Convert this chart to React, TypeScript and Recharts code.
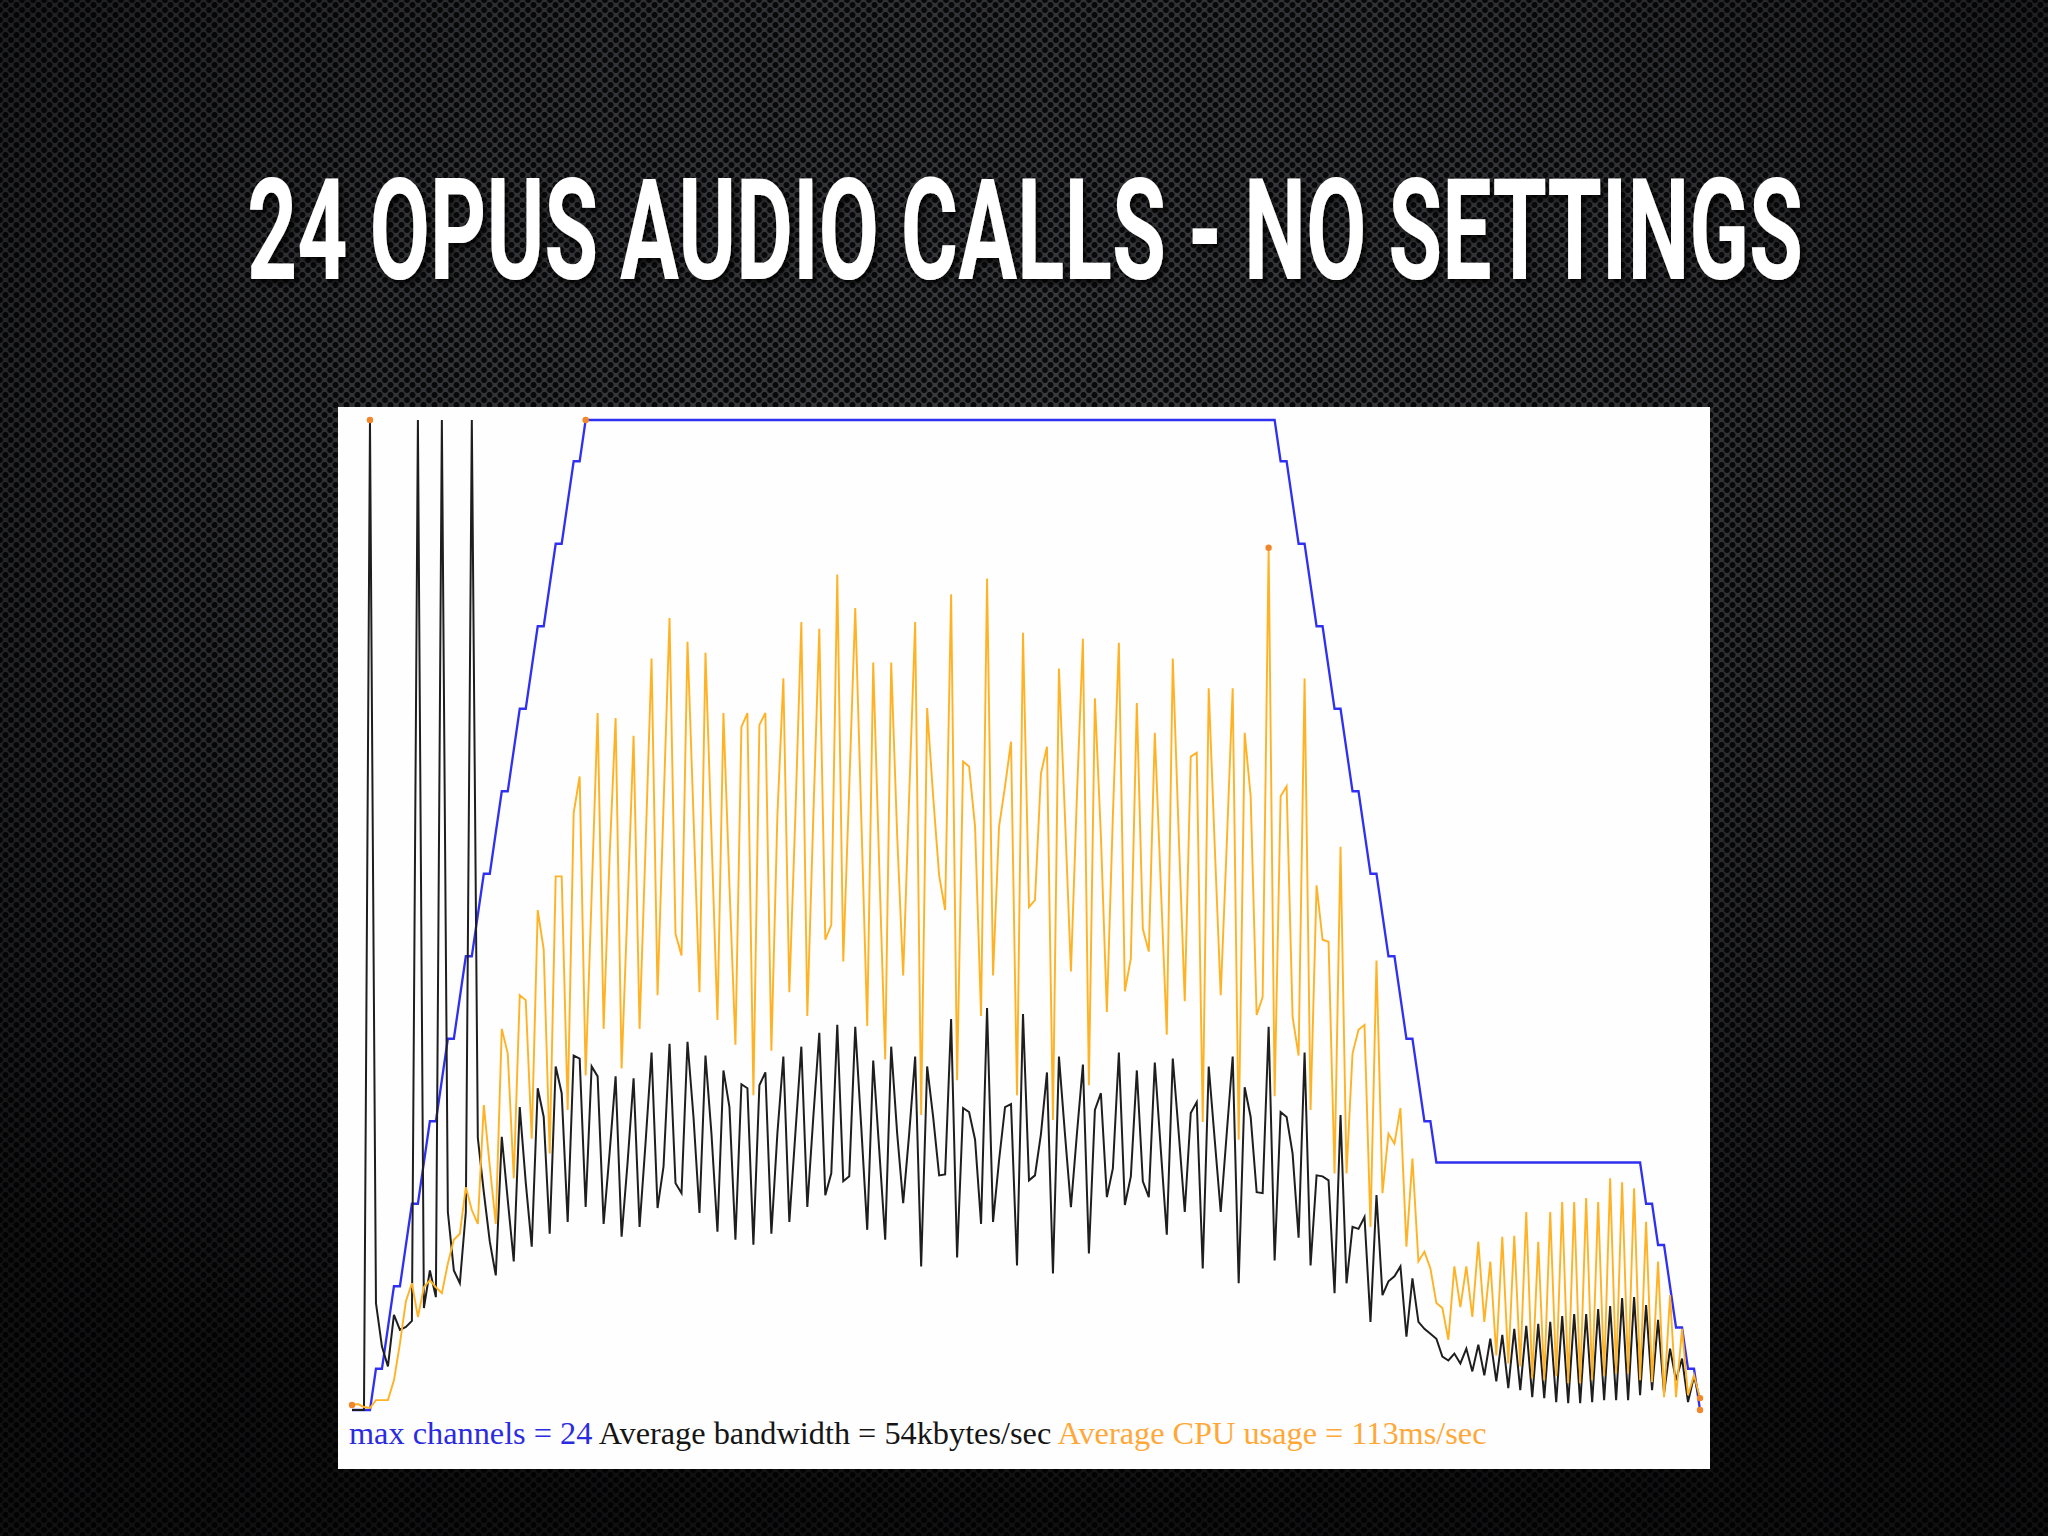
import React from 'react';
import { LineChart, Line, XAxis, YAxis } from 'recharts';

// max channels per sample
const channels = [
  0, 0, 0, 0, 1, 1, 2, 3, 3, 4,
  5, 5, 6, 7, 7, 8, 9, 9, 10, 11,
  11, 12, 13, 13, 14, 15, 15, 16, 17, 17,
  18, 19, 19, 20, 21, 21, 22, 23, 23, 24,
  24, 24, 24, 24, 24, 24, 24, 24, 24, 24,
  24, 24, 24, 24, 24, 24, 24, 24, 24, 24,
  24, 24, 24, 24, 24, 24, 24, 24, 24, 24,
  24, 24, 24, 24, 24, 24, 24, 24, 24, 24,
  24, 24, 24, 24, 24, 24, 24, 24, 24, 24,
  24, 24, 24, 24, 24, 24, 24, 24, 24, 24,
  24, 24, 24, 24, 24, 24, 24, 24, 24, 24,
  24, 24, 24, 24, 24, 24, 24, 24, 24, 24,
  24, 24, 24, 24, 24, 24, 24, 24, 24, 24,
  24, 24, 24, 24, 24, 24, 24, 24, 24, 24,
  24, 24, 24, 24, 24, 24, 24, 24, 24, 24,
  24, 24, 24, 24, 24, 23, 23, 22, 21, 21,
  20, 19, 19, 18, 17, 17, 16, 15, 15, 14,
  13, 13, 12, 11, 11, 10, 9, 9, 8, 7,
  7, 6, 6, 6, 6, 6, 6, 6, 6, 6,
  6, 6, 6, 6, 6, 6, 6, 6, 6, 6,
  6, 6, 6, 6, 6, 6, 6, 6, 6, 6,
  6, 6, 6, 6, 6, 6, 5, 5, 4, 4,
  3, 2, 2, 1, 1, 0,
];

// bandwidth, % of chart height
const bandwidth = [
  0, 0, 0, 100, 10.8, 6.4, 4.4, 9.6, 8.1, 8.4,
  9, 100, 10.3, 14.1, 11.4, 100, 20, 14.1, 12.8, 20,
  100, 27.5, 22, 17, 13.6, 27.6, 21.2, 15, 30.6, 23,
  16.5, 32.5, 29.6, 17.8, 34.7, 32, 19, 35.8, 35.5, 20.5,
  34.7, 33.7, 18.8, 26, 33.7, 17.5, 25, 33.5, 18.5, 27,
  36.1, 20.4, 24.6, 37, 22.9, 21.9, 37.2, 29.6, 19.9, 35.8,
  27.9, 18, 34.3, 30.6, 17.2, 32.9, 32.5, 16.7, 32.8, 34.1,
  17.8, 27.9, 35.7, 19, 27.9, 36.7, 20.5, 29.6, 38.1, 21.7,
  23.9, 38.9, 23.1, 23.6, 38.7, 28.6, 18.2, 35.3, 26.3, 17.2,
  36.7, 27.9, 20.9, 27.9, 35.7, 14.5, 34.7, 29.6, 23.7, 23.8,
  39.5, 15.4, 30.5, 30.1, 27.3, 18.8, 40.6, 19, 25.2, 30.6,
  30.9, 14.6, 40, 23.2, 23.7, 27.9, 34.1, 13.8, 35.7, 27.9,
  20.5, 27.9, 34.9, 15.8, 30.3, 32, 21.5, 24.4, 36.1, 20.7,
  23.6, 34.3, 23.1, 21.5, 35.1, 26.3, 17.7, 35.5, 27.9, 20,
  30, 31.1, 14.3, 34.7, 27.3, 20, 27.9, 35.7, 12.8, 32.6,
  29.6, 22, 21.9, 38.7, 15.1, 30.1, 29.6, 25.9, 17.4, 36.1,
  14.6, 23.7, 23.6, 23.2, 11.8, 29.8, 12.8, 18.5, 18.3, 19.5,
  8.9, 21.7, 11.6, 13, 13.5, 14.5, 7.4, 13.3, 8.9, 8.2,
  7.7, 7.2, 5.4, 5, 5.7, 4.7, 6.2, 3.9, 6.6, 3.5,
  7.2, 2.9, 7.6, 2.2, 8.2, 2, 8.5, 1.3, 8.7, 1.2,
  8.9, 0.8, 9.5, 0.7, 9.7, 0.7, 9.7, 0.8, 10.2, 1,
  10.5, 1, 11.3, 1, 11.4, 1.5, 10.6, 2, 9.1, 1.7,
  6.2, 3, 5.2, 0.8, 3.4, 1,
];

// CPU usage, % of chart height
const cpu = [
  0.5, 0.6, 0.3, 0.2, 1, 1, 1, 3, 6.7, 11,
  12.8, 9.4, 12.4, 13.1, 12.4, 11.8, 14.8, 17.2, 17.8, 22.5,
  20.2, 18.8, 30.8, 24.6, 18.8, 38.5, 36, 23.4, 41.9, 41.4,
  27.4, 50.5, 46.5, 25.9, 53.9, 53.9, 30.3, 60.3, 64, 33.8,
  52, 70.4, 38.5, 56, 69.9, 34.5, 51, 68.1, 38.5, 57,
  75.9, 41.9, 61, 80, 48.1, 45.9, 77.6, 60, 42.2, 76.5,
  58, 39.4, 70.4, 53, 36.9, 69, 70.4, 31.8, 69.2, 70.4,
  36.3, 60, 73.9, 42.2, 60, 79.6, 39.8, 60, 78.9, 47.5,
  49, 84.4, 45.3, 63, 81, 60, 38.8, 75.5, 55, 35.4,
  75.5, 58, 43.9, 62, 79.6, 29.8, 70.9, 62, 54, 50.5,
  82.4, 33.3, 65.5, 65, 58.9, 39.8, 84, 43.9, 58.9, 63,
  67.5, 31.8, 78.5, 50.8, 51.5, 64.3, 67, 29.3, 74.9, 60,
  44.3, 62, 77.9, 32.8, 71.9, 58, 40.2, 60, 77.5, 42.3,
  45.6, 71.4, 48.6, 46.3, 68.4, 53, 37.9, 75.9, 58, 41.3,
  66, 66.4, 29.1, 72.9, 57, 41.9, 57, 72.9, 27.3, 68.4,
  62, 39.9, 41.7, 87.1, 31.7, 62, 63, 39.7, 35.8, 73.9,
  30.3, 53, 47.5, 47.3, 23.9, 56.9, 23.9, 36, 38.4, 38.9,
  18.5, 45.4, 21.9, 27.9, 26.9, 30.5, 16.5, 25.4, 15, 16,
  14.3, 10.8, 10.3, 7.1, 14.5, 10.4, 14.5, 9.4, 17, 8.9,
  15, 5.5, 17.5, 4.7, 17.6, 4.4, 20, 3.2, 17, 3,
  20, 3.4, 21, 2.7, 21, 2.7, 21.4, 3, 21, 3.4,
  23.4, 3.7, 23, 3.7, 22.4, 3, 19, 2.8, 15, 1.3,
  11.6, 1.3, 8.2, 1.5, 3.5, 1.2,
];

const titleText = '24 OPUS AUDIO CALLS - NO SETTINGS';
const legendParts = [
  { text: 'max channels = 24 ', color: '#2b2be0' },
  { text: 'Average bandwidth = 54kbytes/sec ', color: '#151515' },
  { text: 'Average CPU usage = 113ms/sec', color: '#ffa838' },
];

const channelMarkers = [39, 225];
const bandwidthMarkers = [3];
const cpuMarkers = [0, 153, 225];

const data = channels.map((c, i) => ({
  i,
  channels: c,
  bandwidth: bandwidth[i],
  cpu: cpu[i],
}));

function markerDot(markers: number[]) {
  return (props: any) => {
    const { cx, cy, index } = props;
    if (!markers.includes(index) || cx == null || cy == null) {
      return <g key={`m${index}`} />;
    }
    return <circle key={`m${index}`} cx={cx} cy={cy} r={3.2} fill="#f2862a" stroke="none" />;
  };
}

const background = [
  'radial-gradient(ellipse 75% 70% at 50% 28%, rgba(0,0,0,0) 0%, rgba(0,0,0,0.15) 45%, rgba(0,0,0,0.72) 100%)',
  'radial-gradient(circle at 50% 50%, #0a0a0c 0, #0a0a0c 2.6px, rgba(10,10,12,0) 3.4px)',
  'radial-gradient(circle at 50% 50%, #0a0a0c 0, #0a0a0c 2.6px, rgba(10,10,12,0) 3.4px)',
].join(',');

export default function App() {
  return (
    <div
      style={{
        position: 'absolute',
        left: 0,
        top: 0,
        width: 2048,
        height: 1536,
        overflow: 'hidden',
        backgroundColor: '#3a3b3f',
        backgroundImage: background,
        backgroundSize: '100% 100%, 11px 10px, 11px 10px',
        backgroundPosition: '0 0, 0 0, 5.5px 5px',
      }}
    >
      <svg width={2048} height={400} style={{ position: 'absolute', left: 0, top: 0 }}>
        <defs>
          <filter id="ts" filterUnits="userSpaceOnUse" x="0" y="0" width="2048" height="400">
            <feDropShadow dx="3" dy="4" stdDeviation="3" floodColor="#000" floodOpacity="0.85" />
          </filter>
        </defs>
        <g filter="url(#ts)">
          <g transform="translate(1025 279) scale(1 1.66)">
            <text
              x={0}
              y={0}
              textAnchor="middle"
              textLength={1556}
              lengthAdjust="spacingAndGlyphs"
              fill="#ffffff"
              style={{ fontFamily: 'Roboto, "DejaVu Sans", sans-serif', fontWeight: 700, fontSize: 85 }}
            >
              {titleText}
            </text>
          </g>
        </g>
      </svg>

      <div
        style={{
          position: 'absolute',
          left: 338,
          top: 407,
          width: 1372,
          height: 1062,
          background: '#fefefe',
        }}
      >
        <LineChart
          width={1372}
          height={1062}
          data={data}
          margin={{ top: 13, right: 10, bottom: 59, left: 14 }}
        >
          <XAxis dataKey="i" type="number" domain={[0, 225]} hide />
          <YAxis yAxisId="ch" domain={[0, 24]} hide />
          <YAxis yAxisId="pct" domain={[0, 100]} hide />
          <Line
            yAxisId="ch"
            type="linear"
            dataKey="channels"
            stroke="#3030f0"
            strokeWidth={2.3}
            dot={markerDot(channelMarkers)}
            activeDot={false}
            isAnimationActive={false}
          />
          <Line
            yAxisId="pct"
            type="linear"
            dataKey="bandwidth"
            stroke="#1e1e1e"
            strokeWidth={2}
            dot={markerDot(bandwidthMarkers)}
            activeDot={false}
            isAnimationActive={false}
          />
          <Line
            yAxisId="pct"
            type="linear"
            dataKey="cpu"
            stroke="#ffb224"
            strokeWidth={1.9}
            dot={markerDot(cpuMarkers)}
            activeDot={false}
            isAnimationActive={false}
          />
        </LineChart>
        <svg width={1372} height={1062} style={{ position: 'absolute', left: 0, top: 0, pointerEvents: 'none' }}>
          <text
            x={11}
            y={1037}
            style={{ fontFamily: '"Liberation Serif", "Times New Roman", serif', fontSize: 32.3 }}
          >
            {legendParts.map((p, k) => (
              <tspan key={k} fill={p.color} style={{ whiteSpace: 'pre' }}>
                {p.text}
              </tspan>
            ))}
          </text>
        </svg>
      </div>
    </div>
  );
}
